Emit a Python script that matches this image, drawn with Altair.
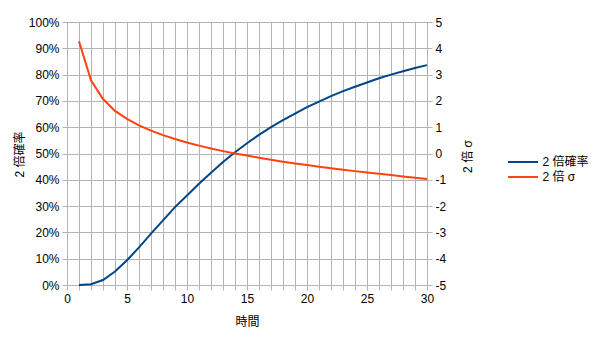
import altair as alt
import pandas as pd

# data
t_values = list(range(1, 31))
prob_values = [0.0, 0.3, 1.9, 5.1, 9.4, 14.3, 19.5, 24.6, 29.6, 34.0,
               38.5, 42.7, 46.8, 50.5, 53.9, 57.1, 60.0, 62.7, 65.2, 67.6,
               69.7, 71.8, 73.7, 75.4, 77.0, 78.6, 80.0, 81.3, 82.5, 83.6]
sigma_values = [4.27, 2.78, 2.07, 1.62, 1.32, 1.07, 0.87, 0.70, 0.55, 0.42,
                0.30, 0.19, 0.09, 0.00, -0.08, -0.16, -0.24, -0.31, -0.38, -0.44,
                -0.50, -0.56, -0.62, -0.67, -0.72, -0.77, -0.82, -0.87, -0.92, -0.97]
series_names = ["2 倍確率", "2 倍 σ"]
series_colors = ["#004586", "#ff420e"]
x_ticks = list(range(0, 31))
left_ticks = [i / 10 for i in range(0, 11)]
right_ticks = list(range(-5, 6))

rows = []
for t, p in zip(t_values, prob_values):
    rows.append({"t": t, "series": series_names[0], "value": p / 100})
for t, s in zip(t_values, sigma_values):
    rows.append({"t": t, "series": series_names[1], "value": s})
df = pd.DataFrame(rows)

FONT = "Liberation Sans, 'Noto Sans CJK JP', sans-serif"
GRID = "#b3b3b3"

color = alt.Color(
    "series:N",
    scale=alt.Scale(domain=series_names, range=series_colors),
    legend=alt.Legend(
        title=None, orient="none", legendX=450, legendY=134,
        symbolType="M-3,0H3", symbolSize=100, symbolStrokeWidth=2,
        labelFont=FONT, labelFontSize=12, labelColor="#000000",
        labelOffset=13.5, rowPadding=3,
    ),
    sort=series_names,
)

x_axis = alt.Axis(
    title="時間", values=x_ticks,
    labelExpr="datum.value % 5 == 0 ? '' + datum.value : ''",
    grid=True, gridColor=GRID, gridWidth=1, gridOpacity=1,
    domainColor=GRID, tickColor=GRID, tickSize=5,
    labelFont=FONT, labelFontSize=12, labelColor="#000000", labelPadding=3,
    labelFlush=False, labelOverlap=False,
    titleFont=FONT, titleFontSize=12, titleFontWeight="normal", titleColor="#000000",
    titleX=180, titleY=36, titleBaseline="middle", titleAlign="center",
)
x_scale = alt.Scale(domain=[0, 30], nice=False, zero=False)

prob_layer = alt.Chart(df).transform_filter(
    alt.datum.series == series_names[0]
).mark_line(strokeWidth=2).encode(
    x=alt.X("t:Q", scale=x_scale, axis=x_axis),
    y=alt.Y(
        "value:Q",
        scale=alt.Scale(domain=[0, 1], nice=False),
        axis=alt.Axis(
            title="2 倍確率", orient="left", values=left_ticks, format=".0%",
            grid=True, gridColor=GRID, gridWidth=1, gridOpacity=1,
            domainColor=GRID, tickColor=GRID, tickSize=5,
            labelFont=FONT, labelFontSize=12, labelColor="#000000", labelPadding=3,
            labelFlush=False,
            titleFont=FONT, titleFontSize=12, titleFontWeight="normal", titleColor="#000000",
            titleAngle=270, titleX=-48, titleY=132, titleBaseline="middle", titleAlign="center",
        ),
    ),
    color=color,
    order="t:Q",
)

sigma_layer = alt.Chart(df).transform_filter(
    alt.datum.series == series_names[1]
).mark_line(strokeWidth=2).encode(
    x=alt.X("t:Q", scale=x_scale, axis=x_axis),
    y=alt.Y(
        "value:Q",
        scale=alt.Scale(domain=[-5, 5], nice=False, zero=False),
        axis=alt.Axis(
            title="2 倍 σ", orient="right", values=right_ticks,
            labelExpr="'' + datum.value",
            grid=False, domainColor=GRID, tickColor=GRID, tickSize=5,
            labelFont=FONT, labelFontSize=12, labelColor="#000000", labelPadding=3,
            labelFlush=False,
            titleFont=FONT, titleFontSize=12, titleFontWeight="normal", titleColor="#000000",
            titleAngle=270, titleX=40, titleY=134, titleBaseline="middle", titleAlign="center",
        ),
    ),
    color=color,
    order="t:Q",
)

chart = alt.layer(prob_layer, sigma_layer).resolve_scale(
    y="independent"
).properties(
    width=360, height=263,
    autosize=alt.AutoSizeParams(type="none"),
    padding={"left": 67, "top": 22, "right": 173, "bottom": 52},
    background="#ffffff",
).configure_view(stroke=None)

chart.save("out.html", embed_options={"renderer": "svg", "actions": False})
